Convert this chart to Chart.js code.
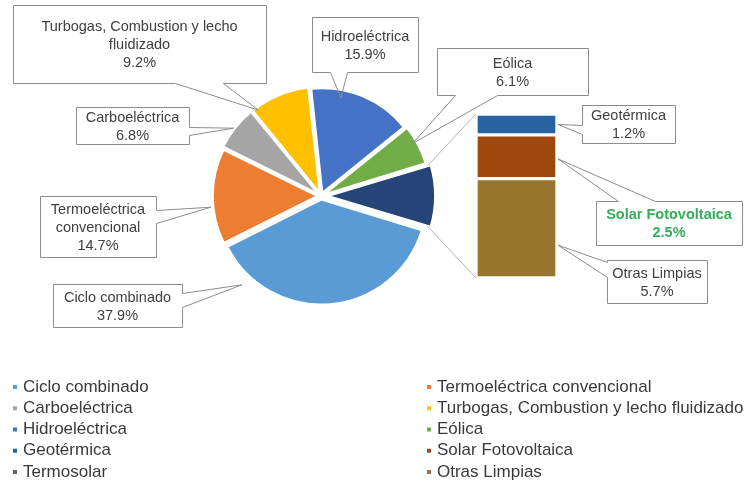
<!DOCTYPE html>
<html lang="es">
<head>
<meta charset="utf-8">
<title>Generación por tecnología</title>
<script src="https://cdn.jsdelivr.net/npm/chart.js@4.4.1/dist/chart.umd.min.js"></script>
<style>
  body { margin: 0; background: #fff; }
  #wrap { position: relative; width: 751px; height: 481px; }
  #wrap canvas { position: absolute; left: 0; top: 0; }
</style>
</head>
<body>
<div id="wrap">
  <canvas id="pieChart" width="751" height="481"></canvas>
  <canvas id="barChart" width="751" height="481"></canvas>
</div>
<script>
// tecnologías del pastel (%)
const mainLabels = [
  "Ciclo combinado",
  "Termoeléctrica convencional",
  "Carboeléctrica",
  "Turbogas, Combustion y lecho fluidizado",
  "Hidroeléctrica",
  "Eólica",
];
const mainValues = [37.9, 14.7, 6.8, 9.2, 15.9, 6.1];
const mainColors = ["#5B9BD5", "#ED7D31", "#A5A5A5", "#FFC000", "#4472C4", "#70AD47"];

// tecnologías que se agrupan en la barra (%)
const smallLabels = ["Geotérmica", "Solar Fotovoltaica", "Termosolar", "Otras Limpias"];
const smallValues = [1.2, 2.5, 0, 5.7];
const smallColors = ["#2862A0", "#9E480E", "#636363", "#98762D"];

const otherColor = "#264478";
const FONT = '"Liberation Sans", Arial, sans-serif';

// posiciones de las etiquetas tipo globo
const pieCallouts = [
  { label: "Ciclo combinado", box: [53, 284, 129, 43], side: "right", base: [293, 307], frac: 0.85, reach: 1.12 },
  { label: "Termoeléctrica convencional", box: [40, 196, 116, 61], side: "right", base: [210, 223], frac: 0.39, reach: 1.03 },
  { label: "Carboeléctrica", box: [76, 107, 113, 37], side: "right", base: [127, 135], frac: 0.47, reach: 1.03 },
  { label: "Turbogas, Combustion y lecho fluidizado", box: [13, 5, 253, 78], side: "bottom", base: [175, 223], frac: 0.08, reach: 0.99 },
  { label: "Hidroeléctrica", box: [312, 17, 106, 55], side: "bottom", base: [330, 347], frac: 0.3, reach: 0.93 },
  { label: "Eólica", box: [437, 48, 151, 47], side: "bottom", base: [455, 497], frac: 0.41, reach: 0.98 },
];
const barCallouts = [
  { label: "Geotérmica", box: [582, 105, 93, 38], side: "left", base: [125, 134], frac: 0.5 },
  { label: "Solar Fotovoltaica", box: [596, 201, 146, 44], side: "top", base: [618, 655], frac: 0.55, color: "#35AD5C", bold: true },
  { label: "Otras Limpias", box: [607, 260, 100, 43], side: "left", base: [262, 277], frac: 0.67 },
];

const otherTotal = smallValues.reduce((a, b) => a + b, 0);
const pieValues = mainValues.concat([otherTotal]);
const pieTotal = pieValues.reduce((a, b) => a + b, 0);
// la rebanada agrupada queda centrada a la derecha
const startRotation = 90 + (otherTotal / pieTotal) * 180;

const pieChart = new Chart(document.getElementById("pieChart"), {
  type: "pie",
  data: {
    labels: mainLabels.concat(["Otras"]),
    datasets: [
      {
        data: pieValues,
        backgroundColor: mainColors.concat([otherColor]),
        borderColor: "#ffffff",
        borderWidth: 2,
        offset: [14, 14, 14, 14, 14, 14, 28],
      },
    ],
  },
  options: {
    responsive: false,
    animation: false,
    rotation: startRotation,
    radius: 104,
    layout: { padding: { left: 171, right: 280, top: 46, bottom: 135 } },
    plugins: { legend: { display: false }, tooltip: { enabled: false } },
  },
});

function fmt(v) {
  return v.toFixed(1) + "%";
}

function wrapText(ctx, text, maxWidth) {
  const words = text.split(" ");
  const lines = [];
  let line = "";
  words.forEach((w) => {
    const test = line ? line + " " + w : w;
    if (line && ctx.measureText(test).width > maxWidth) {
      lines.push(line);
      line = w;
    } else {
      line = test;
    }
  });
  if (line) lines.push(line);
  return lines;
}

// punto sobre una rebanada (incluye el desplazamiento de la rebanada)
function arcPoint(arc, frac, reach) {
  const p = arc.getProps(["x", "y", "startAngle", "endAngle", "outerRadius"], true);
  const off = (arc.options.offset || 0) / 4;
  const mid = (p.startAngle + p.endAngle) / 2;
  const a = p.startAngle + frac * (p.endAngle - p.startAngle);
  const r = p.outerRadius * reach;
  return {
    x: p.x + Math.cos(mid) * off + Math.cos(a) * r,
    y: p.y + Math.sin(mid) * off + Math.sin(a) * r,
  };
}

function drawCallout(ctx, c, tip, text) {
  const [x0, y0, w, h] = c.box;
  const x = x0 + 0.5, y = y0 + 0.5;
  const b0 = c.base[0] + 0.5, b1 = c.base[1] + 0.5;
  ctx.save();
  ctx.fillStyle = "#ffffff";
  ctx.fillRect(x, y, w, h);
  ctx.beginPath();
  ctx.moveTo(x, y);
  if (c.side === "top") { ctx.lineTo(b0, y); ctx.lineTo(tip.x, tip.y); ctx.lineTo(b1, y); }
  ctx.lineTo(x + w, y);
  if (c.side === "right") { ctx.lineTo(x + w, b0); ctx.lineTo(tip.x, tip.y); ctx.lineTo(x + w, b1); }
  ctx.lineTo(x + w, y + h);
  if (c.side === "bottom") { ctx.lineTo(b1, y + h); ctx.lineTo(tip.x, tip.y); ctx.lineTo(b0, y + h); }
  ctx.lineTo(x, y + h);
  if (c.side === "left") { ctx.lineTo(x, b1); ctx.lineTo(tip.x, tip.y); ctx.lineTo(x, b0); }
  ctx.closePath();
  ctx.strokeStyle = "#8C8C8C";
  ctx.lineWidth = 1;
  ctx.stroke();

  ctx.font = (c.bold ? "bold " : "") + "14.5px " + FONT;
  ctx.fillStyle = c.color || "#404040";
  ctx.textAlign = "center";
  ctx.textBaseline = "middle";
  const lines = wrapText(ctx, c.label, w - 4).concat([text]);
  const lh = 18;
  const cx = x0 + w / 2;
  const cy = y0 + h / 2 + 1;
  lines.forEach((ln, i) => {
    ctx.fillText(ln, cx, cy + (i - (lines.length - 1) / 2) * lh);
  });
  ctx.restore();
}

// conectores, etiquetas y leyenda
const overlayPlugin = {
  id: "overlay",
  afterDraw(chart) {
    const ctx = chart.ctx;
    const pieMeta = pieChart.getDatasetMeta(0);
    const otherArc = pieMeta.data[pieValues.length - 1];

    // líneas del pastel a la barra
    const yScale = chart.scales.y;
    const anyBar = chart.getDatasetMeta(0).data[0];
    const barLeft = anyBar.x - anyBar.width / 2;
    const barTop = yScale.getPixelForValue(otherTotal);
    const barBottom = yScale.getPixelForValue(0);
    const pTop = arcPoint(otherArc, 0, 1);
    const pBot = arcPoint(otherArc, 1, 1);
    ctx.save();
    ctx.strokeStyle = "#B4B4B4";
    ctx.lineWidth = 1;
    ctx.beginPath();
    ctx.moveTo(pTop.x, pTop.y);
    ctx.lineTo(barLeft, barTop);
    ctx.moveTo(pBot.x, pBot.y);
    ctx.lineTo(barLeft, barBottom);
    ctx.stroke();
    ctx.restore();

    pieCallouts.forEach((c) => {
      const i = mainLabels.indexOf(c.label);
      const tip = arcPoint(pieMeta.data[i], c.frac, c.reach);
      drawCallout(ctx, c, tip, fmt(mainValues[i]));
    });

    barCallouts.forEach((c) => {
      const di = chart.data.datasets.findIndex((d) => d.label === c.label);
      const bar = chart.getDatasetMeta(di).data[0];
      const top = Math.min(bar.y, bar.base);
      const bottom = Math.max(bar.y, bar.base);
      const tip = { x: bar.x + bar.width / 2 + 1, y: top + c.frac * (bottom - top) };
      drawCallout(ctx, c, tip, fmt(smallValues[smallLabels.indexOf(c.label)]));
    });

    // leyenda en dos columnas
    const legendLabels = mainLabels.concat(smallLabels);
    const legendColors = mainColors.concat(smallColors);
    const colX = [13, 427];
    ctx.save();
    ctx.font = "17px " + FONT;
    ctx.textAlign = "left";
    ctx.textBaseline = "middle";
    legendLabels.forEach((lbl, i) => {
      const x = colX[i % 2];
      const y = 387 + Math.floor(i / 2) * 21.25;
      ctx.fillStyle = legendColors[i];
      ctx.fillRect(x, y - 2, 4, 4);
      ctx.fillStyle = "#3A3A3A";
      ctx.fillText(lbl, x + 10, y);
    });
    ctx.restore();
  },
};

// barra apilada: de abajo hacia arriba
const barOrder = smallLabels.slice().reverse();
new Chart(document.getElementById("barChart"), {
  type: "bar",
  data: {
    labels: ["Otras"],
    datasets: barOrder.map((lbl) => {
      const i = smallLabels.indexOf(lbl);
      return {
        label: lbl,
        data: [smallValues[i]],
        backgroundColor: smallColors[i],
        borderColor: "#ffffff",
        borderWidth: 2,
        borderSkipped: false,
        barPercentage: 1,
        categoryPercentage: 1,
      };
    }),
  },
  options: {
    responsive: false,
    animation: false,
    layout: { padding: { left: 476, right: 194, top: 114, bottom: 203 } },
    scales: {
      x: { stacked: true, display: false },
      y: { stacked: true, display: false, min: 0, max: otherTotal },
    },
    plugins: { legend: { display: false }, tooltip: { enabled: false } },
  },
  plugins: [overlayPlugin],
});
</script>
</body>
</html>
